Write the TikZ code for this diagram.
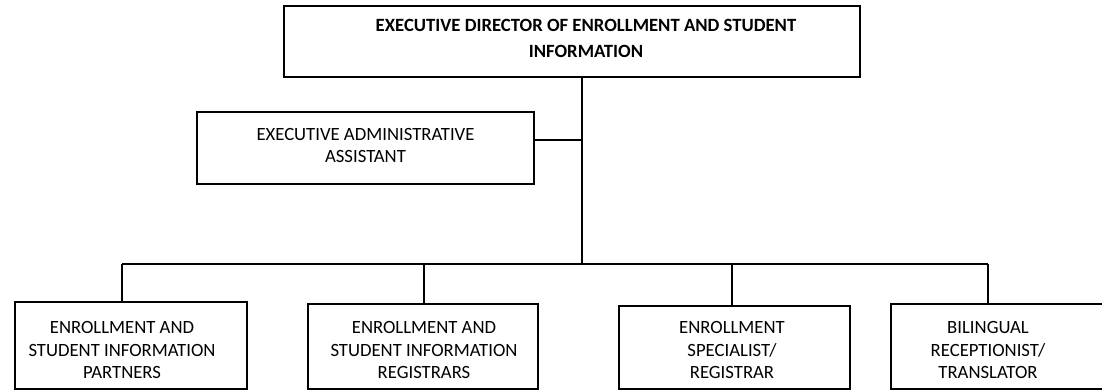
\documentclass[tikz,border=0pt]{standalone}
\usepackage{fontspec}
\setmainfont{Carlito}
\begin{document}
\begin{tikzpicture}[x=1pt,y=-1pt,
  boxframe/.style={draw=black, line width=1.6pt, inner sep=0pt, outer sep=0pt, anchor=north west},
  lbl/.style={anchor=north, inner sep=0pt, align=center, font=\fontsize{18.7}{22.5}\selectfont},
  wire/.style={draw=black, line width=1.6pt}]
\useasboundingbox (0,0) rectangle (1102,391);
% boxes
\node[boxframe, minimum width=576pt, minimum height=71pt] (top) at (284,6) {};
\node[boxframe, minimum width=337pt, minimum height=72pt] (asst) at (197,112) {};
\node[boxframe, minimum width=232pt, minimum height=87pt] (b1) at (15,302) {};
\node[boxframe, minimum width=230pt, minimum height=85pt] (b2) at (308,304) {};
\node[boxframe, minimum width=231pt, minimum height=83pt] (b3) at (619,306) {};
\node[boxframe, minimum width=220pt, minimum height=85pt] (b4) at (891,304) {};
% texts
\node[lbl, font=\fontsize{18.7}{26}\selectfont\bfseries] (ttop) at (586,19) {EXECUTIVE DIRECTOR OF ENROLLMENT AND STUDENT\\INFORMATION};
\node[lbl] (tasst) at (365.5,128) {EXECUTIVE ADMINISTRATIVE\\ASSISTANT};
\node[lbl] (t1) at (122,321.5) {ENROLLMENT AND\\STUDENT INFORMATION\\PARTNERS};
\node[lbl] (t2) at (424,321.5) {ENROLLMENT AND\\STUDENT INFORMATION\\REGISTRARS};
\node[lbl] (t3) at (732,321.5) {ENROLLMENT\\SPECIALIST/\\REGISTRAR};
\node[lbl] (t4) at (988,321.5) {BILINGUAL\\RECEPTIONIST/\\TRANSLATOR};
% connector points
\coordinate (hub) at (582,264);
\coordinate (d1) at (122,264);
\coordinate (d2) at (424,264);
\coordinate (d3) at (732,264);
\coordinate (d4) at (988,264);
% connectors
\draw[wire] (top.south -| hub) -- (hub);
\draw[wire] ([yshift=8pt]asst.east) -- ([yshift=8pt]asst.east -| hub);
\draw[wire] (d1) -- (d4);
\draw[wire] (d1) -- (b1.north -| d1);
\draw[wire] (d2) -- (b2.north -| d2);
\draw[wire] (d3) -- (b3.north -| d3);
\draw[wire] (d4) -- (b4.north -| d4);
\end{tikzpicture}
\end{document}
